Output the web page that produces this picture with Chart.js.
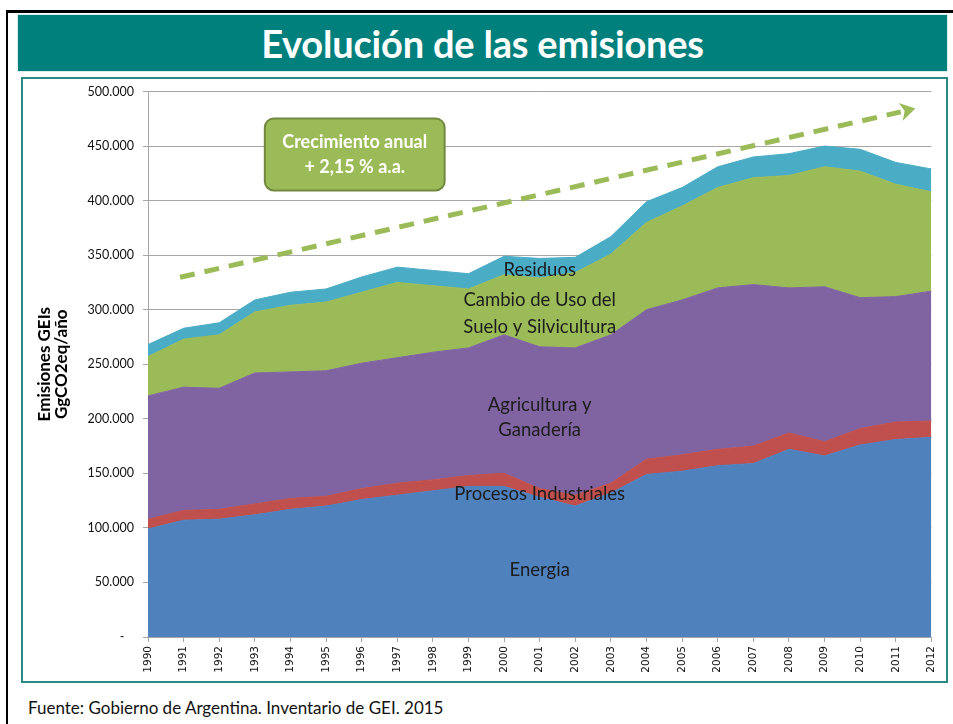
<!DOCTYPE html>
<html lang="es">
<head>
  <meta charset="UTF-8" />
  <title>Evolución de las emisiones</title>
  <script src="https://cdn.jsdelivr.net/npm/chart.js@4.4.3/dist/chart.umd.js"></script>
  <style>
    *{box-sizing:border-box;margin:0;padding:0}
    body{width:953px;height:724px;background:#fff;position:relative;overflow:hidden;font-family:Lato,"Open Sans",sans-serif}
    .frame{position:absolute;left:6px;top:10px;width:960px;height:730px;border-left:2px solid #000;border-top:3px solid #000}
    .header{position:absolute;left:17px;top:14px;width:931px;height:58px;background:#00807c;
      border:1px solid #d8efee;color:#fff;font-weight:700;font-size:38px;
      display:flex;align-items:center;justify-content:center;letter-spacing:-.2px}
    .panel{position:absolute;left:21px;top:77px;width:927px;height:606px;border:2px solid #2a8a85;background:#fff}
    #wrap{position:absolute;left:22px;top:75px;width:926px;height:604px}
    .source{position:absolute;left:28px;top:697px;font-size:17px;color:#111}
  </style>
</head>
<body>
  <div class="frame"></div>
  <div class="header">Evolución de las emisiones</div>
  <div class="panel"></div>
  <div id="wrap"><canvas id="chart" width="926" height="604"></canvas></div>
  <div class="source">Fuente: Gobierno de Argentina. Inventario de GEI. 2015</div>

  <script>
    /* ==== DATA (GgCO2eq/año) ==== */
    const years = ['1990','1991','1992','1993','1994','1995','1996','1997','1998','1999','2000',
                   '2001','2002','2003','2004','2005','2006','2007','2008','2009','2010','2011','2012'];
    const energia     = [99000,107000,108000,112000,117000,120000,126000,130000,134000,138000,138000,
                         128000,120000,132000,149000,152000,157000,159000,172000,166000,176000,181000,183000];
    const procesos    = [9000,9000,9000,10000,10000,9000,10000,11000,10000,10000,12000,
                         8000,10000,9000,14000,15000,15000,16000,15000,13000,15000,16000,15000];
    const agricultura = [113000,113000,111000,120000,116000,115000,115000,115000,117000,117000,127000,
                         130000,135000,136000,137000,142000,148000,148000,133000,142000,120000,115000,119000];
    const cambioUso   = [36000,44000,49000,56000,61000,63000,65000,69000,61000,54000,55000,
                         63000,69000,74000,80000,86000,92000,98000,103000,110000,116000,103000,91000];
    const residuos    = [11000,10000,11000,11000,12000,12000,14000,14000,14000,14000,17000,
                         18000,14000,16000,19000,17000,19000,19000,20000,19000,20000,20000,21000];
    const yTicks = [0,50000,100000,150000,200000,250000,300000,350000,400000,450000,500000];

    const calloutText = ['Crecimiento anual','+ 2,15 % a.a.'];

    /* ==== HELPERS ==== */
    const fmt = v => v===0 ? '-   ' : String(v).replace(/\B(?=(\d{3})+(?!\d))/g,'.');
    function area(label, data, color, fill){
      return {label, data, backgroundColor:color, borderColor:color, borderWidth:1,
              pointRadius:0, tension:0, fill};
    }

    /* labels drawn inside the areas: [text, x index, y value] */
    const areaLabels = [
      ['Residuos',11,336000],
      ['Cambio de Uso del',11,308500],
      ['Suelo y Silvicultura',11,284500],
      ['Agricultura y',11,212500],
      ['Ganadería',11,189500],
      ['Procesos Industriales',11,131000],
      ['Energia',11,61500]
    ];

    const overlay = {
      id:'overlay',
      afterDatasetsDraw(chart){
        const {ctx, scales:{x,y}} = chart;
        ctx.save();
        // area labels
        ctx.fillStyle = '#1c1c1c';
        ctx.font = '18.5px Lato, "Open Sans", sans-serif';
        ctx.textAlign = 'center'; ctx.textBaseline = 'middle';
        areaLabels.forEach(([t,i,v]) => ctx.fillText(t, x.getPixelForValue(i), y.getPixelForValue(v)));

        // dashed trend arrow
        const x0 = x.getPixelForValue(0.9),  y0 = y.getPixelForValue(329700);
        const x1 = x.getPixelForValue(21.55), y1 = y.getPixelForValue(484400);
        const ang = Math.atan2(y1-y0, x1-x0);
        const back = 15;
        const xe = x1 - Math.cos(ang)*back, ye = y1 - Math.sin(ang)*back;
        ctx.strokeStyle = '#9bbb59'; ctx.lineWidth = 5; ctx.setLineDash([15,10]);
        ctx.beginPath(); ctx.moveTo(x0,y0); ctx.lineTo(xe,ye); ctx.stroke();
        ctx.setLineDash([]);
        ctx.fillStyle = '#9bbb59';
        const px = -Math.sin(ang), py = Math.cos(ang);
        ctx.beginPath();
        ctx.moveTo(x1,y1);
        ctx.lineTo(xe + px*9, ye + py*9);
        ctx.lineTo(xe + Math.cos(ang)*4, ye + Math.sin(ang)*4);
        ctx.lineTo(xe - px*9, ye - py*9);
        ctx.closePath(); ctx.fill();

        // callout box
        const bx0 = x.getPixelForValue(3.28), bx1 = x.getPixelForValue(8.33);
        const by0 = y.getPixelForValue(475300), by1 = y.getPixelForValue(409300);
        ctx.beginPath();
        ctx.roundRect(bx0, by0, bx1-bx0, by1-by0, 9);
        ctx.fillStyle = '#9bbb59'; ctx.fill();
        ctx.strokeStyle = '#71893f'; ctx.lineWidth = 2; ctx.stroke();
        ctx.fillStyle = '#fff';
        ctx.font = 'bold 18px Lato, "Open Sans", sans-serif';
        const cx = (bx0+bx1)/2, cy = (by0+by1)/2;
        ctx.fillText(calloutText[0], cx, cy-12);
        ctx.fillText(calloutText[1], cx, cy+13);
        ctx.restore();
      }
    };

    new Chart(document.getElementById('chart').getContext('2d'), {
      type:'line',
      data:{
        labels: years,
        datasets:[
          area('Energia', energia, '#4f81bd', 'origin'),
          area('Procesos Industriales', procesos, '#c0504d', '-1'),
          area('Agricultura y Ganadería', agricultura, '#8064a2', '-1'),
          area('Cambio de Uso del Suelo y Silvicultura', cambioUso, '#9bbb59', '-1'),
          area('Residuos', residuos, '#4bacc6', '-1')
        ]
      },
      options:{
        responsive:false, animation:false,
        layout:{padding:{left:0,top:8,right:12,bottom:0}},
        plugins:{legend:{display:false}, tooltip:{enabled:false}},
        scales:{
          x:{
            stacked:true,
            afterFit: s => { s.height = 42; },
            grid:{drawOnChartArea:false, drawTicks:true, tickLength:5, color:'#a6a6a6'},
            border:{color:'#a6a6a6'},
            ticks:{minRotation:90, maxRotation:90, autoSkip:false, padding:4, color:'#111',
                   font:{family:'"DejaVu Sans", Verdana, sans-serif', size:10.5}}
          },
          y:{
            stacked:true, min:0, max:500000,
            afterFit: s => { s.width = 126; },
            afterBuildTicks: s => { s.ticks = yTicks.map(v => ({value:v})); },
            grid:{color:'#a6a6a6', tickLength:5},
            border:{color:'#a6a6a6'},
            ticks:{padding:9, color:'#111', callback: v => fmt(v),
                   font:{family:'Lato, "Open Sans", sans-serif', size:12.5}},
            title:{display:true, text:['Emisiones GEIs','GgCO2eq/año'], color:'#000',
                   padding:{top:14.5}, font:{family:'Lato, "Open Sans", sans-serif', size:17, weight:'bold', lineHeight:1.0}}
          }
        }
      },
      plugins:[overlay]
    });
  </script>
</body>
</html>
